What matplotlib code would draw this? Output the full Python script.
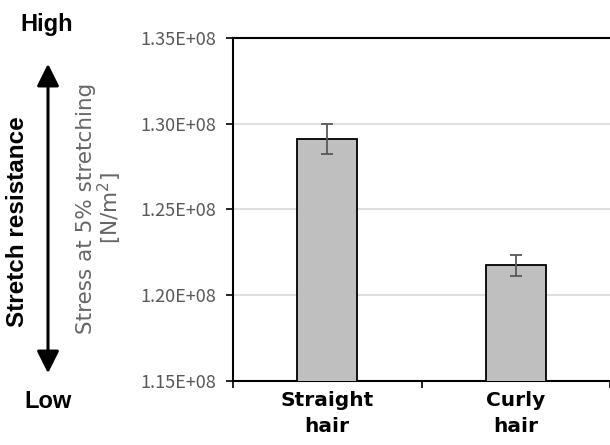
import matplotlib.pyplot as plt
from matplotlib.patches import FancyArrowPatch
from matplotlib.ticker import FuncFormatter, FixedLocator

plt.rcParams['font.family'] = ['Noto Sans CJK JP', 'DejaVu Sans']

categories = ["Straight\nhair", "Curly\nhair"]
stress = [1.291e8, 1.2175e8]
stress_err = [0.0088e8, 0.006e8]

fig = plt.figure(figsize=(6.1, 4.45), dpi=100)
ax = fig.add_axes([233 / 610, 1 - 381 / 445, 1 - 233 / 610, 343 / 445])

x = range(len(categories))
ax.bar(x, stress, width=0.32, color="#bfbfbf", edgecolor="black", linewidth=1.3, zorder=3)
ax.errorbar(x, stress, yerr=stress_err, fmt="none", ecolor="#595959", elinewidth=1.3,
            capsize=4, capthick=1.3, zorder=4)

ax.set_ylim(1.15e8, 1.35e8)
ax.set_xlim(-0.5, 1.5)
ax.set_yticks([1.15e8, 1.20e8, 1.25e8, 1.30e8, 1.35e8])
ax.yaxis.set_major_formatter(FuncFormatter(lambda v, p: f"{v/1e8:.2f}E+08"))
ax.tick_params(axis="y", labelsize=13, labelcolor="#595959", length=5, width=1.2,
               direction="out", pad=7)
ax.grid(axis="y", color="#d9d9d9", linewidth=1.2, zorder=0)

ax.set_xticks(list(x))
ax.set_xticklabels(categories, fontsize=14.5, fontweight="bold", family="DejaVu Sans",
                   linespacing=1.5)
ax.tick_params(axis="x", which="major", length=0, pad=7)
ax.xaxis.set_minor_locator(FixedLocator([-0.5, 0.5, 1.5]))
ax.tick_params(axis="x", which="minor", length=5, width=1.2, direction="out")

for side in ["left", "bottom", "top"]:
    ax.spines[side].set_linewidth(1.5)
    ax.spines[side].set_color("black")
ax.spines["right"].set_visible(False)

fig.text(100 / 610, 1 - 208 / 445, "Stress at 5% stretching\n[N/m$^2$]", rotation=90,
         ha="center", va="center", fontsize=15.5, color="#666666", linespacing=1.0,
         family="DejaVu Sans")

fig.text(18 / 610, 1 - 222 / 445, "Stretch resistance", rotation=90, ha="center",
         va="center", fontsize=17.5, fontweight="bold", family="Liberation Sans")
fig.text(47 / 610, 1 - 24 / 445, "High", ha="center", va="center", fontsize=17,
         fontweight="bold", family="Liberation Sans")
fig.text(48 / 610, 1 - 402 / 445, "Low", ha="center", va="center", fontsize=17,
         fontweight="bold", family="Liberation Sans")
fig.patches.append(FancyArrowPatch(
    (48 / 610, 1 - 376 / 445), (48 / 610, 1 - 61 / 445), transform=fig.transFigure,
    arrowstyle="<|-|>,head_length=9,head_width=4.5", color="black", linewidth=2.2,
    mutation_scale=1.5))

fig.savefig("out.png", dpi=100)
